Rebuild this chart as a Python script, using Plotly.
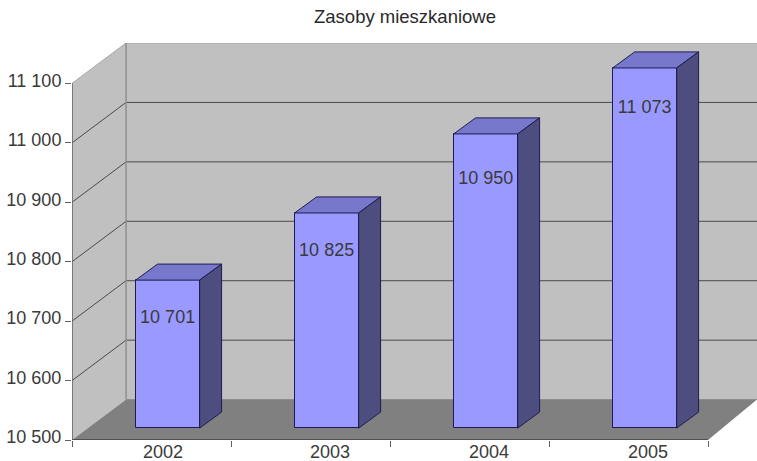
import plotly.graph_objects as go

# --- data ---
years = ["2002", "2003", "2004", "2005"]
label_values = [10701, 10825, 10950, 11073]
bar_labels = ["10 701", "10 825", "10 950", "11 073"]
# bar tops as read against the value axis (the 3D drawing sits above the labelled values)
bar_tops = [10769, 10882, 11015, 11126]
bar_base = 10520
y_ticks = [10500, 10600, 10700, 10800, 10900, 11000, 11100]
y_tick_labels = ["10 500", "10 600", "10 700", "10 800", "10 900", "11 000", "11 100"]

# --- projection / style constants (axis units) ---
X_MAX = 4.308
Y_MIN, Y_MAX = 10500, 11168
DEPTH_X, DEPTH_Y = 0.34, 68          # depth of the chart box
BAR_DX, BAR_DY = 0.138, 27           # depth of a bar
BAR_W = 0.4025
BAR_SHIFT = 0.6015                   # bar centre inside its category
LABEL_POS = [0.572, 1.623, 2.623, 3.623]
LABEL_NUDGE = [3, -8, -12, -15]      # placement of value labels, in axis units

FONT = "Liberation Sans, Arial, sans-serif"
TXT = "#3a3a3a"
WALL = "#c0c0c0"
FLOOR = "#808080"
FRONT = "#9999ff"
TOP = "#7777cc"
SIDE = "#4d4d80"
EDGE = "#1c1c50"
GRID = "#4a4a4a"
AXIS = "#606060"

centers = [i + BAR_SHIFT for i in range(len(years))]


def poly(xs, ys, color, layer="below"):
    pts = "M " + " L ".join(f"{x},{y}" for x, y in zip(xs, ys)) + " Z"
    return dict(type="path", path=pts, xref="x", yref="y", layer=layer,
                fillcolor=color, line=dict(width=0))


def seg(x0, y0, x1, y1, color, width=1):
    return dict(type="line", x0=x0, y0=y0, x1=x1, y1=y1, xref="x", yref="y",
                layer="below", line=dict(color=color, width=width))


shapes = [
    # back wall, side wall, floor
    poly([DEPTH_X, X_MAX, X_MAX, DEPTH_X], [Y_MIN + DEPTH_Y, Y_MIN + DEPTH_Y, Y_MAX, Y_MAX], WALL),
    poly([0, DEPTH_X, DEPTH_X, 0], [Y_MIN, Y_MIN + DEPTH_Y, Y_MAX, y_ticks[-1]], WALL),
    poly([0, DEPTH_X, X_MAX, 4], [Y_MIN, Y_MIN + DEPTH_Y, Y_MIN + DEPTH_Y, Y_MIN], FLOOR),
]
for v in y_ticks[1:-1]:
    shapes.append(seg(0, v, DEPTH_X, v + DEPTH_Y, GRID))
    shapes.append(seg(DEPTH_X, v + DEPTH_Y, X_MAX, v + DEPTH_Y, GRID))
shapes += [
    seg(0, y_ticks[-1], DEPTH_X, Y_MAX, "#a6a6a6"),
    seg(DEPTH_X, Y_MAX, X_MAX, Y_MAX, "#a6a6a6"),
    seg(DEPTH_X, Y_MIN + DEPTH_Y, DEPTH_X, Y_MAX, "#8f8f8f", 1.5),
    seg(DEPTH_X, Y_MIN + DEPTH_Y, X_MAX, Y_MIN + DEPTH_Y, "#8a8a8a"),
    # front axis lines
    seg(0, Y_MIN, 0, y_ticks[-1], AXIS, 1.5),
    seg(0, Y_MIN, 4, Y_MIN, "#404040", 1.5),
]

fig = go.Figure()

# front faces
fig.add_trace(go.Bar(
    x=centers, y=[t - bar_base for t in bar_tops], base=bar_base, width=BAR_W,
    marker=dict(color=FRONT, line=dict(color=EDGE, width=1)),
    hoverinfo="skip", showlegend=False,
))

# top and side faces
for c, t in zip(centers, bar_tops):
    l, r = c - BAR_W / 2, c + BAR_W / 2
    fig.add_trace(go.Scatter(
        x=[l, l + BAR_DX, r + BAR_DX, r, l], y=[t, t + BAR_DY, t + BAR_DY, t, t],
        mode="lines", fill="toself", fillcolor=TOP, line=dict(color=EDGE, width=1),
        hoverinfo="skip", showlegend=False,
    ))
    fig.add_trace(go.Scatter(
        x=[r, r + BAR_DX, r + BAR_DX, r, r],
        y=[t, t + BAR_DY, bar_base + BAR_DY, bar_base, t],
        mode="lines", fill="toself", fillcolor=SIDE, line=dict(color=EDGE, width=1),
        hoverinfo="skip", showlegend=False,
    ))

# value labels
fig.add_trace(go.Scatter(
    x=centers, y=[v + n for v, n in zip(label_values, LABEL_NUDGE)], text=bar_labels, mode="text",
    textposition="middle center", textfont=dict(family=FONT, size=18, color=TXT),
    hoverinfo="skip", showlegend=False, cliponaxis=False,
))

fig.update_layout(
    width=757, height=461, autosize=False,
    margin=dict(l=72, r=0, t=43, b=21, autoexpand=False),
    paper_bgcolor="white", plot_bgcolor="white",
    bargap=0, showlegend=False, shapes=shapes,
    font=dict(family=FONT, size=18, color=TXT),
    title=dict(text="Zasoby mieszkaniowe", x=405 / 757, y=1 - 17 / 461,
               xanchor="center", yanchor="middle",
               font=dict(family=FONT, size=18.5, color="#2a2a2a")),
    xaxis=dict(
        range=[0, X_MAX], showgrid=False, zeroline=False, showline=False, automargin=False,
        tickmode="array", tickvals=LABEL_POS, ticktext=years, ticks="",
        tickfont=dict(family=FONT, size=18, color=TXT), ticklabelstandoff=-1,
        minor=dict(tickmode="array", tickvals=[0, 1, 2, 3, 4], ticks="outside",
                   ticklen=6, tickcolor=AXIS, tickwidth=1, showgrid=False),
    ),
    yaxis=dict(
        range=[Y_MIN, Y_MAX], showgrid=False, zeroline=False, showline=False, automargin=False,
        tickmode="array", tickvals=y_ticks, ticktext=y_tick_labels,
        ticks="outside", ticklen=6, tickcolor=AXIS, tickwidth=1,
        ticklabelshift=-3,
        tickfont=dict(family=FONT, size=18, color=TXT),
    ),
)

fig.write_html(
    "out.html",
    config={"displayModeBar": False},
    post_script="document.body.style.margin='0';document.documentElement.style.overflow='hidden';",
)
